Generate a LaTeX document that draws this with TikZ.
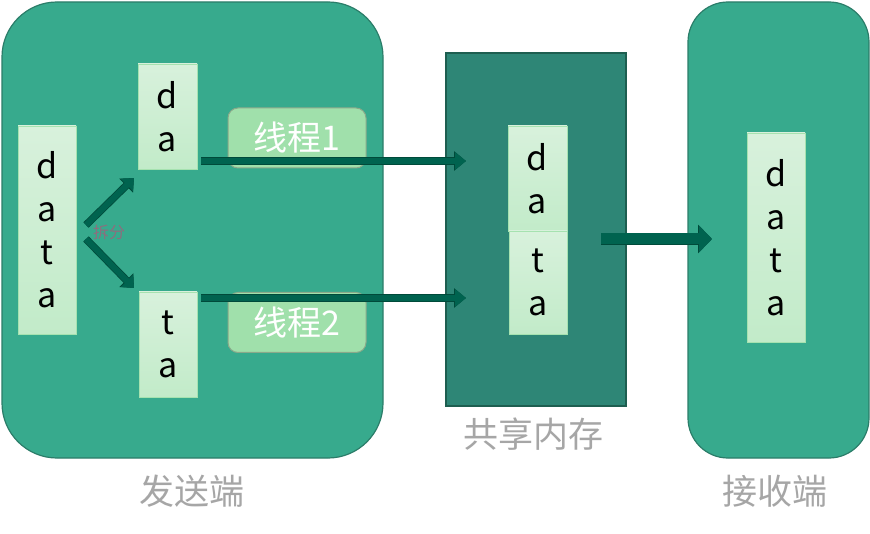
\documentclass[tikz,border=0pt]{standalone}
\usepackage{fontspec}
\setmainfont{Noto Sans CJK SC}
\usetikzlibrary{arrows.meta}
\definecolor{boxfill}{HTML}{37AA8D}
\definecolor{boxline}{HTML}{2B7D69}
\definecolor{memfill}{HTML}{2E8676}
\definecolor{memline}{HTML}{1E5E50}
\definecolor{datatop}{HTML}{D8F1DC}
\definecolor{databot}{HTML}{C2EBC9}
\definecolor{dataline}{HTML}{A6E2B0}
\definecolor{thrfill}{HTML}{A0E0AB}
\definecolor{thrline}{HTML}{8AA98A}
\definecolor{arrcol}{HTML}{00634F}
\definecolor{arredge}{HTML}{004A3A}
\definecolor{labgray}{HTML}{A6A6A6}
\definecolor{splitcol}{HTML}{8C6E7E}
\tikzset{
  endbox/.style={draw=boxline, line width=1.2pt, fill=boxfill, rounded corners=#1},
  membox/.style={draw=memline, line width=1.2pt, fill=memfill},
  databox/.style={draw=dataline, line width=0.8pt, top color=datatop, bottom color=databot,
    inner sep=0pt, align=center, font=\fontsize{34}{43}\selectfont, text=black},
  thrbox/.style={draw=thrline, line width=1pt, fill=thrfill, rounded corners=10pt,
    minimum width=138pt, minimum height=60pt, inner sep=0pt, text=white,
    font=\fontsize{34}{38}\selectfont},
  thinarr/.style={draw=arrcol, line width=6pt,
    -{Triangle[length=11pt,width=17pt]}, preaction={draw=arredge, line width=7.5pt,-{Triangle[length=12pt,width=19pt]}}},
  bigarr/.style={draw=arrcol, line width=11pt,
    -{Triangle[length=13pt,width=26pt]}, preaction={draw=arredge, line width=12.5pt,-{Triangle[length=14pt,width=28pt]}}},
  splitarr/.style={draw=arrcol, line width=6pt,
    -{Triangle[length=10pt,width=17pt]}, preaction={draw=arredge, line width=7.5pt,-{Triangle[length=11pt,width=19pt]}}},
  labtext/.style={text=labgray, font=\fontsize{35}{40}\selectfont, inner sep=0pt},
}
\begin{document}
\begin{tikzpicture}[x=1pt,y=-1pt]
\useasboundingbox (0,0) rectangle (870,534);
% containers
\path[endbox=55pt] (2,2) rectangle (383,458);
\path[membox] (446,53) rectangle (626,406);
\path[endbox=40pt] (688,2) rectangle (869,458);
% data boxes
\node[databox, minimum width=58pt, minimum height=208pt] (data) at (47,230) {d\\a\\t\\a};
\node[databox, minimum width=59pt, minimum height=105pt] (da) at (167.5,116.5) {d\\a};
\node[databox, minimum width=58pt, minimum height=105pt] (ta) at (168,344.5) {t\\a};
\node[databox, minimum width=59pt, minimum height=105pt] (mda) at (537.5,178.5) {d\\a};
\node[databox, minimum width=58pt, minimum height=103pt] (mta) at (538,282.5) {t\\a};
\node[databox, minimum width=58pt, minimum height=209pt] (rdata) at (776,237.5) {d\\a\\t\\a};
% thread boxes
\node[thrbox] (thr1) at (297,138) {线程1};
\node[thrbox] (thr2) at (297,322.5) {线程2};
% split arrows
\coordinate (s1a) at (86,225);
\coordinate (s1b) at (134,178);
\coordinate (s2a) at (86,239);
\coordinate (s2b) at (134,288);
\draw[splitarr] (s1a) -- (s1b);
\draw[splitarr] (s2a) -- (s2b);
\node[text=splitcol, font=\fontsize{16}{18}\selectfont, inner sep=0pt] (split) at (109,232) {拆分};
% thread arrows
\coordinate (t1a) at (201,161);
\coordinate (t1b) at (466,161);
\coordinate (t2a) at (201,298);
\coordinate (t2b) at (466,298);
\draw[thinarr] (t1a) -- (t1b);
\draw[thinarr] (t2a) -- (t2b);
% big arrow
\coordinate (ba) at (601,239);
\coordinate (bb) at (712,239);
\draw[bigarr] (ba) -- (bb);
% labels
\node[labtext] (lsend) at (192,491) {发送端};
\node[labtext] (lmem) at (533,434) {共享内存};
\node[labtext] (lrecv) at (775,491) {接收端};
\end{tikzpicture}
\end{document}
